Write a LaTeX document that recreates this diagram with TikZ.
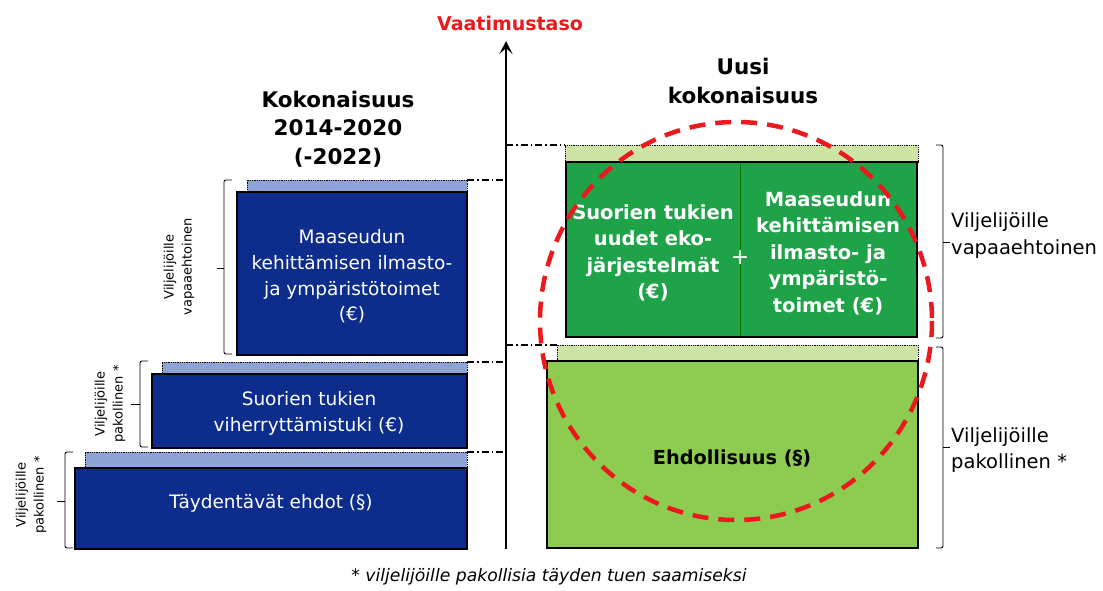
\documentclass[tikz,border=0pt]{standalone}
\usepackage{fontspec}
\setmainfont{DejaVu Sans}
\usetikzlibrary{arrows.meta}
\definecolor{dblue}{RGB}{12,45,140}
\definecolor{lblue}{RGB}{143,164,214}
\definecolor{dgreen}{RGB}{30,163,72}
\definecolor{lgreen}{RGB}{141,204,80}
\definecolor{pgreen}{RGB}{205,228,165}
\definecolor{vred}{RGB}{235,25,30}
\begin{document}
\begin{tikzpicture}[x=1pt,y=-1pt,
  box/.style={draw=black, line width=2.2pt, anchor=north west, inner sep=0pt, outer sep=0pt},
  bluebox/.style={box, fill=dblue},
  dgbox/.style={box, fill=dgreen},
  lgbox/.style={box, fill=lgreen},
  strip/.style={draw=black, densely dotted, line width=0.8pt, anchor=north west, inner sep=0pt, outer sep=0pt},
  bluetxt/.style={text=white, align=center, inner sep=0pt, font=\fontsize{18.5}{25.7}\selectfont},
  greentxt/.style={text=white, align=center, inner sep=0pt, font=\fontsize{19.5}{26.5}\selectfont\bfseries},
  head/.style={align=center, inner sep=0pt, font=\fontsize{21.5}{28.5}\selectfont\bfseries},
  rotlbl/.style={rotate=90, align=center, inner sep=0pt, font=\fontsize{13}{18}\selectfont},
  sidelbl/.style={anchor=west, align=left, inner sep=0pt, font=\fontsize{19.5}{26.5}\selectfont},
  brk/.style={draw=black, line width=0.9pt, rounded corners=2pt},
  level/.style={draw=black, line width=1.2pt, dash pattern=on 7pt off 3pt on 1.5pt off 3pt},
  ring/.style={draw=vred, line width=4.5pt, dash pattern=on 16pt off 10pt}
]
\useasboundingbox (0,0) rectangle (1103,590);

% left side strips and blocks
\node[strip, fill=lblue, minimum width=220pt, minimum height=12pt] (s1) at (247,180) {};
\node[bluebox, minimum width=230pt, minimum height=163pt] (b1) at (237,192) {};
\node[strip, fill=lblue, minimum width=305pt, minimum height=12pt] (s2) at (162,362) {};
\node[bluebox, minimum width=315pt, minimum height=74pt] (b2) at (152,374) {};
\node[strip, fill=lblue, minimum width=382pt, minimum height=16pt] (s3) at (85,452) {};
\node[bluebox, minimum width=392pt, minimum height=81pt] (b3) at (75,468) {};

\node[bluetxt] (t1) at (352,276.5) {Maaseudun\\kehittämisen ilmasto-\\ja ympäristötoimet\\(€)};
\node[bluetxt] (t2) at (309,413.5) {Suorien tukien\\viherryttämistuki (€)};
\node[bluetxt] (t3) at (271,503) {Täydentävät ehdot (§)};

% right side strips and blocks
\node[strip, fill=pgreen, minimum width=353pt, minimum height=17pt] (g1s) at (565,145) {};
\node[dgbox, minimum width=351pt, minimum height=175pt] (g1) at (566,162) {};
\draw[draw=green!45!black, line width=0.5pt] (740,163.5) -- (740,335.5);
\node[strip, fill=pgreen, minimum width=361pt, minimum height=16pt] (g2s) at (557,345) {};
\node[lgbox, minimum width=371pt, minimum height=187pt] (g2) at (547,361) {};

\node[greentxt] (gt1) at (653,253) {Suorien tukien\\uudet eko-\\järjestelmät\\(€)};
\node[text=white, inner sep=0pt, font=\fontsize{22}{24}\selectfont] (plus) at (740,258) {+};
\node[greentxt] (gt2) at (828,253) {Maaseudun\\kehittämisen\\ilmasto- ja\\ympäristö-\\toimet (€)};
\node[inner sep=0pt, font=\fontsize{19.3}{24}\selectfont\bfseries] (ehd) at (732,458) {Ehdollisuus (§)};

% axis
\coordinate (axb) at (506,549);
\coordinate (axt) at (506,41);
\draw[line width=1.5pt, -{Stealth[length=13pt,width=13pt,inset=6pt]}] (axb) -- (axt);

% level lines
\draw[level] (s1.north east) -- (s1.north east -| axb);
\draw[level] (s2.north east) -- (s2.north east -| axb);
\draw[level] (s3.north east) -- (s3.north east -| axb);
\draw[level] (axb |- g1s.north west) -- (g1s.north west);
\draw[level] (axb |- g2s.north west) -- (g2s.north west);

% headings
\node[text=vred, inner sep=0pt, font=\fontsize{19}{24}\selectfont\bfseries] (vaat) at (510,23) {Vaatimustaso};
\node[head] (kok) at (338,129) {Kokonaisuus\\2014-2020\\(-2022)};
\node[head] (uusi) at (743,81) {Uusi\\kokonaisuus};

% left brackets
\draw[brk] (232,180) -- (224,180) -- (224,354) -- (232,354);
\draw[brk] (224,268) -- (217,268);
\draw[brk] (148,361) -- (140,361) -- (140,447) -- (148,447);
\draw[brk] (140,404) -- (131,404);
\draw[brk] (73,452) -- (65,452) -- (65,548) -- (73,548);
\draw[brk] (65,501) -- (57,501);

\node[rotlbl] (r1) at (179,267) {Viljelijöille\\vapaaehtoinen};
\node[rotlbl] (r2) at (110,404) {Viljelijöille\\pakollinen *};
\node[rotlbl] (r3) at (31,495) {Viljelijöille\\pakollinen *};

% right brackets
\draw[brk] (936,145) -- (943,145) -- (943,338) -- (936,338);
\draw[brk] (943,242) -- (950,242);
\draw[brk] (936,347) -- (943,347) -- (943,548) -- (936,548);
\draw[brk] (943,447) -- (950,447);

\node[sidelbl] (l1) at (951,235.5) {Viljelijöille\\vapaaehtoinen};
\node[sidelbl] (l2) at (951,450) {Viljelijöille\\pakollinen *};

% red dashed ring
\draw[ring] (736,321) ellipse [x radius=196, y radius=199];

% footnote
\node[inner sep=0pt, font=\fontsize{17.2}{20}\selectfont\itshape] (foot) at (549,577) {* viljelijöille pakollisia täyden tuen saamiseksi};
\end{tikzpicture}
\end{document}
